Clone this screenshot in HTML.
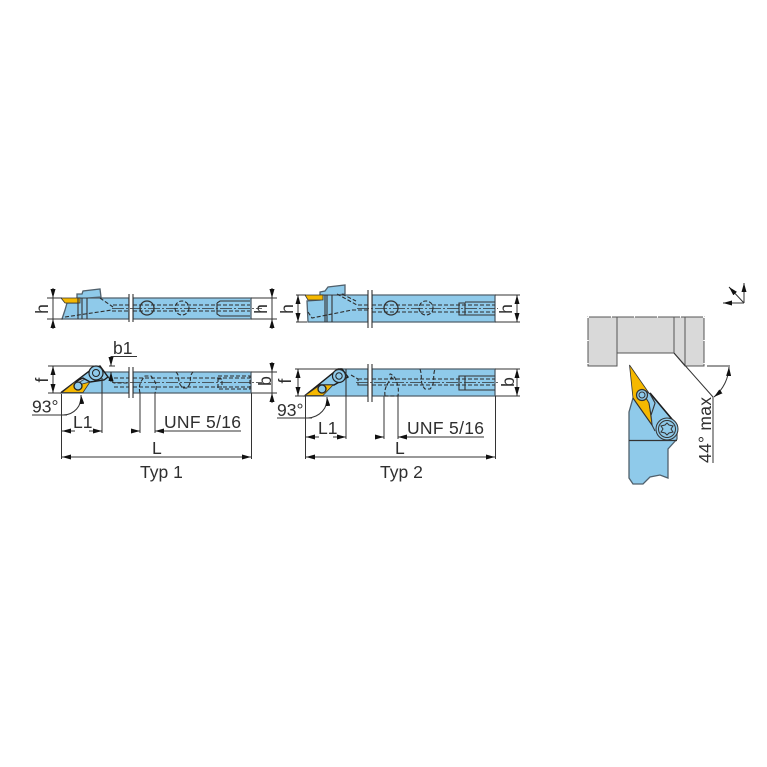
<!DOCTYPE html>
<html>
<head>
<meta charset="utf-8">
<style>
html,body{margin:0;padding:0;background:#fff}
svg{display:block}
text{font-family:"Liberation Sans",sans-serif;font-size:17.5px;fill:#2f2f2f}
.d{stroke:#333;stroke-width:1;fill:none}
.o{stroke:#333;stroke-width:1.100;fill:none}
.b{fill:#8fcaea;stroke:#50606c;stroke-width:1.300}
.y{fill:#f5b800;stroke:#333;stroke-width:.8}
.h{stroke:#2c2c2c;stroke-width:1.100;fill:none;stroke-dasharray:4 2}
.c{stroke:#333;stroke-width:.8;fill:none;stroke-dasharray:12 2 2 2}
.g{fill:#d9d9d9;stroke:#555;stroke-width:1}
</style>
</head>
<body>
<svg width="767" height="767" viewBox="0 0 767 767" xmlns="http://www.w3.org/2000/svg">
<defs>
<marker id="a" viewBox="0 0 9 5" refX="9" refY="2.500" markerWidth="9" markerHeight="5" markerUnits="userSpaceOnUse" orient="auto-start-reverse"><path d="M0 0L9 2.500L0 5z" fill="#111"/></marker>
</defs>
<rect width="767" height="767" fill="#fff"/>

<!-- Typ 1 side -->
<path class="b" d="M62 319L65 310L67 303H77V298H129V319Z"/>
<path class="b" d="M133 298H251V319H133Z"/>
<rect x="129" y="296" width="4" height="26" fill="#fff"/>
<path class="o" d="M129 294V322M133 294V322"/>
<path class="b" d="M77 294H82L83 291L100 289L101 297L87 298H77Z"/>
<path class="y" d="M61 298H80V303H65Z"/>
<path class="o" d="M78 298V319M82 298V319M87 298V319"/>
<path class="h" d="M100 298L113 307M65 317L112 310M113 305H129M133 305H250M112 311H129M133 311H250"/>
<path class="c" d="M112 308.500H262"/>
<circle cx="147" cy="308" r="7" fill="none" stroke="#333" stroke-width="1.300"/>
<circle cx="182" cy="308" r="7" class="h"/>
<path class="o" d="M217 303L220 301H250M217 303V314L220 316H250"/>

<!-- Typ 1 top -->
<path class="b" d="M96 372H129V393H62Z"/>
<path class="b" d="M133 372H251V393H133Z"/>
<rect x="129" y="370" width="4" height="26" fill="#fff"/>
<path class="o" d="M129 367V398M133 367V398"/>
<path d="M61 392.500L92 369L100 366L108 377L104 380L90 382L83 378L75 382Z" fill="#8fcaea" stroke="#1c1c1c" stroke-width="1.400"/>
<path class="y" d="M62 392.500L75 382L82 384L90 382L83 392.500Z"/>
<circle cx="96" cy="373" r="7" fill="#8fcaea" stroke="#222" stroke-width="1.200"/>
<circle cx="96" cy="373" r="3.500" fill="none" stroke="#222"/>
<circle cx="78" cy="386" r="4" fill="#8fcaea" stroke="#222" stroke-width="1.300"/>
<path class="o" d="M102 378V393"/>
<path class="h" d="M108 377L114 383H129M114 378H129M133 378H250M114 387H129M133 387H250"/>
<path class="c" d="M112 382.500H262"/>
<path class="h" d="M140 393C138 385 141 381 145 376H151C155 381 158 385 155 393"/>
<path class="h" d="M176 372C181 377 176 382 183 388H187C193 382 188 377 193 372"/>
<path class="h" d="M218 376H250V389H218ZM218 379H222V387H218"/>

<!-- Typ 2 side -->
<path class="b" d="M308 322L307 301L320 300V295H368V322Z"/>
<path class="b" d="M372 295H495V322H372Z"/>
<rect x="368" y="293" width="4" height="31" fill="#fff"/>
<path class="o" d="M368 290V328M372 290V328"/>
<path class="b" d="M320 292L325 291L328 287L345 285L345 294L337 295H320Z"/>
<path class="y" d="M305 295H323V300H308Z"/>
<path class="o" d="M325 295V322M327 295V322M332 295V322"/>
<path class="h" d="M337 294L357 305M342 294L356 301M308 312L312 318L352 310H368M358 305H368M372 305H495M372 312H495"/>
<path class="c" d="M357 308.500H498"/>
<circle cx="391" cy="308" r="7" fill="none" stroke="#333" stroke-width="1.300"/>
<circle cx="426" cy="308" r="7" class="h"/>
<path class="o" d="M459 303H465V315H459ZM465 302H495M465 315H495"/>

<!-- Typ 2 top -->
<path class="b" d="M338 369H368V396H305Z"/>
<path class="b" d="M372 369H495V396H372Z"/>
<rect x="368" y="367" width="4" height="31" fill="#fff"/>
<path class="o" d="M368 364V402M372 364V402"/>
<path d="M305 395.500L338 369H342L348 377L334 385H320Z" fill="#8fcaea" stroke="#1c1c1c" stroke-width="1.400"/>
<path class="y" d="M305 395.500L320 385H333L323 395.500Z"/>
<circle cx="339" cy="376" r="6.500" fill="#8fcaea" stroke="#222" stroke-width="1.200"/>
<circle cx="339" cy="376" r="3.200" fill="none" stroke="#222"/>
<circle cx="322" cy="389" r="4" fill="#8fcaea" stroke="#222" stroke-width="1.300"/>
<path class="o" d="M346 369V396"/>
<path class="h" d="M351 375L358 379V385H368M358 379H368M372 379H495M358 385H368M372 385H495"/>
<path class="c" d="M356 382.500H498"/>
<path class="h" d="M385 396C384 388 387 385 391 378H392C388 373 390 372 395 378C398 385 399 388 398 396H385"/>
<path class="h" d="M420 369C423 378 419 382 425 389H430C436 382 432 378 435 369"/>
<path class="o" d="M459 376H465V390H459ZM465 376H495M465 390H495"/>

<!-- Dimensions Typ 1 -->
<path class="d" d="M47 298H62M47 319H63M251 298H277M251 319H277"/>
<path class="d" d="M53 288V298" marker-end="url(#a)"/>
<path class="d" d="M53 329V319" marker-end="url(#a)"/>
<path class="d" d="M53 298V319M272 298V319"/>
<path class="d" d="M272 288V298" marker-end="url(#a)"/>
<path class="d" d="M272 329V319" marker-end="url(#a)"/>
<text transform="translate(48 313) rotate(-90)" text-anchor="middle" x="4">h</text>
<text transform="translate(267 313) rotate(-90)" text-anchor="middle" x="4">h</text>

<path class="d" d="M48 366H95M48 393H62M251 372H277M251 393H277"/>
<path class="d" d="M53 380V366" marker-end="url(#a)"/>
<path class="d" d="M53 380V393" marker-end="url(#a)"/>
<text transform="translate(48 380) rotate(-90)" text-anchor="middle">f</text>
<path class="d" d="M272 362V372" marker-end="url(#a)"/>
<path class="d" d="M272 403V393" marker-end="url(#a)"/>
<path class="d" d="M272 372V393"/>
<text transform="translate(271 381) rotate(-90)" text-anchor="middle">b</text>
<text x="113" y="354">b1</text>
<path class="d" d="M137 356.500H111V366" marker-end="url(#a)"/>
<path class="d" d="M109 366H115"/>
<path class="d" d="M111 382V372" marker-end="url(#a)"/>

<text x="32" y="412.500">93°</text>
<path class="d" d="M32 415H67"/>
<path class="d" d="M63 415C74 415 82 406 81 395" marker-end="url(#a)"/>
<path class="d" d="M61.500 394V459M102 393V433M251.500 393V459M140 393V433M155 393V433"/>
<path class="d" d="M75 431H62" marker-end="url(#a)"/>
<path class="d" d="M89 431H102" marker-end="url(#a)"/>
<text x="73" y="428">L1</text>
<path class="d" d="M133 431H140" marker-end="url(#a)"/>
<path class="d" d="M241 431H155" marker-end="url(#a)"/>
<text x="164" y="428" textLength="77">UNF 5/16</text>
<path class="d" d="M62 457H251" marker-end="url(#a)" marker-start="url(#a)"/>
<text x="152" y="454">L</text>
<text x="140" y="478">Typ 1</text>

<!-- Dimensions Typ 2 -->
<path class="d" d="M296 295H306M296 322H307M495 295H520M495 322H520"/>
<path class="d" d="M298 309V295" marker-end="url(#a)"/>
<path class="d" d="M298 309V322" marker-end="url(#a)"/>
<text transform="translate(293 313) rotate(-90)" text-anchor="middle" x="4">h</text>
<path class="d" d="M517 309V295" marker-end="url(#a)"/>
<path class="d" d="M517 309V322" marker-end="url(#a)"/>
<text transform="translate(512 313) rotate(-90)" text-anchor="middle" x="4">h</text>

<path class="d" d="M295 369H340M295 396H305M495 369H520M495 396H520"/>
<path class="d" d="M298 382V369" marker-end="url(#a)"/>
<path class="d" d="M298 382V396" marker-end="url(#a)"/>
<text transform="translate(291 381) rotate(-90)" text-anchor="middle">f</text>
<path class="d" d="M517 382V369" marker-end="url(#a)"/>
<path class="d" d="M517 382V396" marker-end="url(#a)"/>
<text transform="translate(514 382) rotate(-90)" text-anchor="middle">b</text>

<text x="277" y="416">93°</text>
<path class="d" d="M277 418H312"/>
<path class="d" d="M308 418C320 417 328 408 327 397" marker-end="url(#a)"/>
<path class="d" d="M305.500 396V459M346 396V439M495.500 396V459M384 396V439M398 396V439"/>
<path class="d" d="M319 437H306" marker-end="url(#a)"/>
<path class="d" d="M333 437H346" marker-end="url(#a)"/>
<text x="318" y="434">L1</text>
<path class="d" d="M375 437H384" marker-end="url(#a)"/>
<path class="d" d="M484 437H398" marker-end="url(#a)"/>
<text x="407" y="434" textLength="77">UNF 5/16</text>
<path class="d" d="M306 457H495" marker-end="url(#a)" marker-start="url(#a)"/>
<text x="395" y="454">L</text>
<text x="380" y="478">Typ 2</text>

<!-- Right view -->
<path class="g" d="M588 317H704V366H685L674 353H617V366H588Z"/>
<path d="M617 317V353M674 317V353M685 317V366" stroke="#555" stroke-width="1" fill="none"/>
<path d="M588 317H704M588 317V366M704 317V366" stroke="#fff" stroke-width="1" stroke-dasharray="1 22" fill="none"/>

<path class="b" d="M629 412L633 398L652 425L651 415L655 403L650 393L677 425V439L668 449V478L660 475L650 477L643 484H633L629 478Z" stroke="#444"/>
<path class="y" d="M629.500 365L651 396L649 403L652 425L633 398Z"/>
<path d="M633 398L652 425L655 431" stroke="#333" stroke-width="1" fill="none"/>
<path d="M650 393L676 424" stroke="#1c1c1c" stroke-width="1.500" fill="none"/>
<path d="M646 391L650 394L655 403L651 415L649 403L646 398Z" fill="#8fcaea" stroke="#333"/>
<circle cx="642" cy="395" r="5.500" fill="#8fcaea" stroke="#333" stroke-width="1.200"/>
<circle cx="642" cy="395" r="3" fill="none" stroke="#333"/>
<circle cx="667" cy="429" r="11" fill="#8fcaea" stroke="#333"/>
<circle cx="667" cy="429" r="8.500" fill="none" stroke="#333"/>
<path d="M667 423L669 425L673 426L671 429L673 432L669 433L667 435L665 433L661 432L663 429L661 426L665 425Z" fill="none" stroke="#333"/>
<path d="M629 440.500H677" stroke="#333" stroke-width="1.200"/>

<path class="d" d="M674 353L713 397V463M707 366H730"/>
<path class="d" d="M729 367A41 41 0 0 1 714 397" marker-start="url(#a)" marker-end="url(#a)"/>
<text transform="translate(711 463) rotate(-90)" textLength="66">44° max</text>

<path class="d" d="M744 303V283" marker-end="url(#a)"/>
<path class="d" d="M744 303L729 287" marker-end="url(#a)"/>
<path class="d" d="M744 303H723" marker-end="url(#a)"/>
</svg>
</body>
</html>
